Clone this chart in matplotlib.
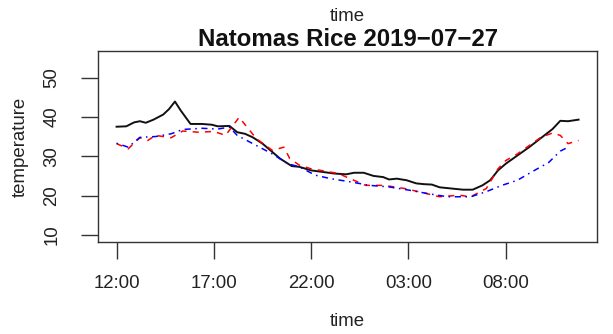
import matplotlib
matplotlib.use("Agg")
import matplotlib.pyplot as plt

plt.rcParams['font.family'] = ['Liberation Sans', 'DejaVu Sans']

# hours after 12:00
black_h = [0, 0.5, 0.9, 1.2, 1.5, 1.9, 2.4, 2.7, 3.0, 3.3, 3.8, 4.4, 4.9, 5.2, 5.8, 6.2, 6.6, 7.0, 7.5,
           8.0, 8.4, 9.0, 9.4, 10.0, 10.6, 11.2, 11.8, 12.2, 12.7, 13.2, 13.7, 14.0, 14.4, 14.9, 15.4,
           15.8, 16.2, 16.6, 17.2, 17.8, 18.3, 18.8, 19.2, 19.6, 20.0, 20.6, 21.2, 21.8, 22.4, 22.8,
           23.2, 23.74]
black_v = [37.5, 37.6, 38.6, 38.9, 38.5, 39.3, 40.6, 42.0, 43.9, 41.6, 38.2, 38.2, 38.0, 37.6, 37.7,
           36.1, 35.7, 34.8, 33.2, 31.1, 29.4, 27.5, 27.3, 26.4, 26.0, 25.6, 25.4, 25.8, 25.8, 25.0,
           24.7, 24.1, 24.3, 23.9, 23.1, 22.9, 22.8, 22.1, 21.8, 21.5, 21.5, 22.6, 23.9, 26.4, 28.1,
           30.2, 32.3, 34.6, 36.9, 39.0, 38.9, 39.3]

red_h = [0, 0.6, 1.2, 1.6, 2.0, 2.8, 3.4, 4.2, 5.0, 5.6, 6.3, 6.7, 7.2, 8.0, 8.6, 8.9, 9.4, 10.0,
         10.6, 11.4, 12.0, 12.8, 13.6, 14.0, 14.8, 15.6, 16.6, 17.6, 18.2, 19.0, 19.6, 20.0, 20.6,
         21.2, 21.8, 22.4, 22.8, 23.2, 23.74]
red_v = [33.2, 31.9, 34.7, 34.0, 35.3, 34.7, 36.4, 36.1, 36.3, 35.3, 39.9, 37.4, 34.4, 31.5, 32.3,
         29.4, 27.7, 26.8, 26.3, 25.6, 24.3, 22.6, 22.6, 22.4, 21.8, 20.9, 19.7, 20.1, 19.7, 21.8,
         26.8, 28.9, 30.6, 32.7, 34.8, 35.9, 35.3, 33.2, 34.0]

blue_h = [0, 0.6, 1.2, 2.0, 2.8, 3.4, 4.4, 5.2, 5.8, 6.2, 7.0, 8.0, 8.8, 9.4, 10.2, 11.0, 12.0,
          13.0, 14.0, 15.0, 16.0, 17.0, 18.2, 19.0, 19.8, 20.6, 21.4, 22.2, 22.8, 23.2]
blue_v = [33.3, 32.3, 34.8, 35.0, 35.7, 36.8, 37.1, 36.9, 37.4, 35.3, 33.2, 30.6, 28.1, 27.3, 25.2,
          24.3, 23.5, 22.6, 22.2, 21.4, 20.5, 19.7, 19.7, 21.0, 22.6, 23.9, 26.2, 28.4, 31.3, 32.3]

tick_hours = [0, 5, 10, 15, 20]
tick_labels = ["12:00", "17:00", "22:00", "03:00", "08:00"]
y_ticks = [10, 20, 30, 40, 50]
title = "Natomas Rice 2019\u221207\u221227"

fig = plt.figure(figsize=(6.13, 3.34), dpi=100)
ax = fig.add_axes([0.160, 0.2754, 0.814, 0.5726])

ax.plot(black_h, black_v, color='#111111', lw=1.4, solid_joinstyle='round')
ax.plot(red_h, red_v, color='red', lw=1.1, dashes=(4, 4))
ax.plot(blue_h, blue_v, color='blue', lw=1.1, dashes=(1, 3, 4, 3))

xmax = 23.74
ax.set_xlim(-0.04 * xmax, xmax * 1.04)
ax.set_ylim(10 - 0.04 * 45, 55 + 0.04 * 45)

ax.set_xticks(tick_hours)
ax.set_xticklabels(tick_labels)
ax.set_yticks(y_ticks)
ax.set_yticklabels([str(v) for v in y_ticks], rotation=90, va='center')

ax.tick_params(axis='both', direction='out', length=12, width=1, labelsize=13.4,
               color='#333333', labelcolor='#222222')
ax.tick_params(axis='x', pad=12)
ax.tick_params(axis='y', pad=15)
for s in ax.spines.values():
    s.set_linewidth(1.0)
    s.set_color('#333333')

ax.set_xlabel("time", fontsize=13.4, labelpad=15, color='#222222')
ax.set_ylabel("temperature", fontsize=13.4, labelpad=11, color='#222222')
ax.set_title(title, fontsize=17.3, fontweight='bold', pad=3, color='#111111')
fig.text(0.567, 0.952, "time", ha='center', va='center', fontsize=13.4, color='#222222')

fig.savefig("out.png", dpi=100)
